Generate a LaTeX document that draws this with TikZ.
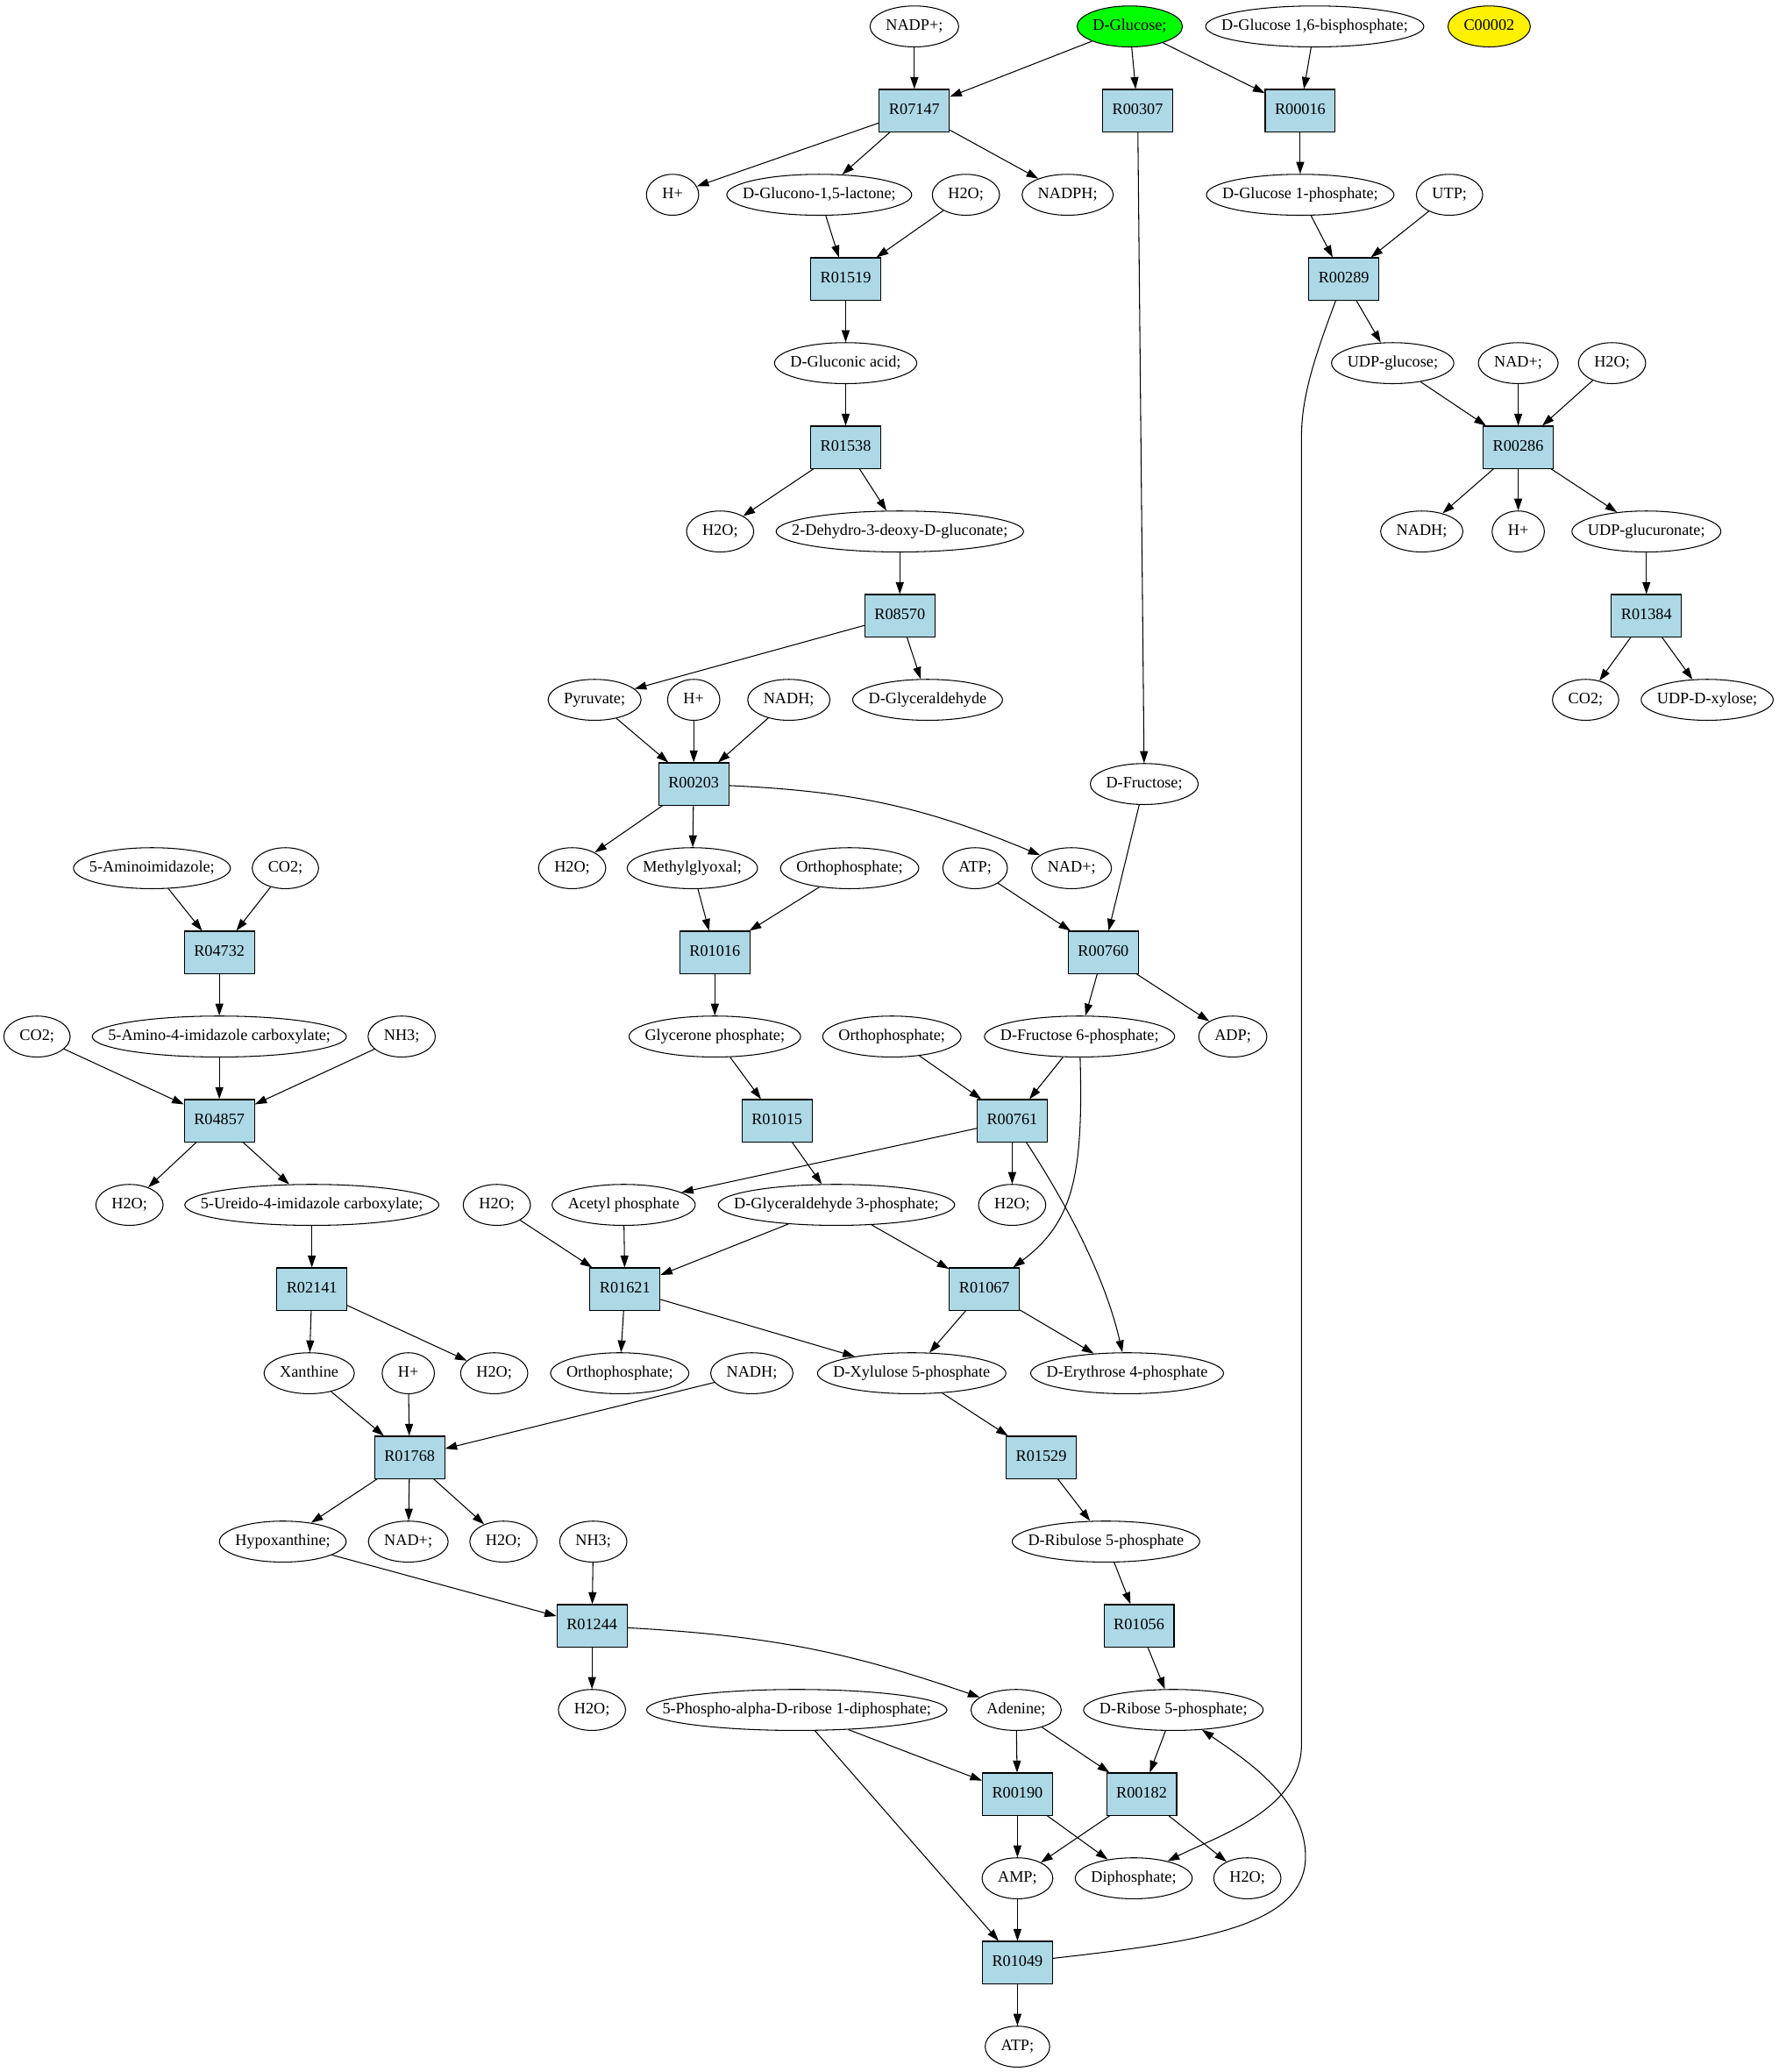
\documentclass[tikz,border=0pt]{standalone}
\usepackage{fontspec}
\setmainfont{Liberation Serif}
\usetikzlibrary{arrows.meta,shapes.geometric}
\definecolor{rxnblue}{RGB}{173,216,230}
\newlength\metw
\newcommand\metfont{\fontsize{12.1pt}{14pt}\selectfont}
% width of a compound label plus its side margins
\newcommand\metsize[1]{\pgfinterruptpicture\settowidth{\metw}{\metfont#1}\global\metw=\metw
  \endpgfinterruptpicture\global\advance\metw by 24pt\xdef\mw{\the\metw}}
\begin{document}
\begin{tikzpicture}[x=1pt,y=-1pt,line width=0.7pt,font=\metfont,>={Triangle[length=9pt,width=6pt]}]
\tikzstyle{met}=[ellipse,draw,minimum height=31pt,inner xsep=-100pt,inner ysep=0pt,text height=8.5pt,text depth=2.5pt]
\tikzstyle{rxn}=[rectangle,draw,fill=rxnblue,minimum width=53pt,minimum height=32pt,inner sep=0pt,text height=8.5pt,text depth=2.5pt]
\useasboundingbox (0,0) rectangle (1346,1568);

  % compounds: name/x/rank/label
  \foreach \name/\x/\r/\text in {nadp/692/0/NADP+;, g16bp/995/0/{D-Glucose 1,6-bisphosphate;},
      h-a/509/2/H+, glcnl/620/2/{D-Glucono-1,5-lactone;}, h2o-a/731/2/H2O;, nadph/808/2/NADPH;,
      g1p/984/2/D-Glucose 1-phosphate;, utp/1097/2/UTP;,
      glcn/640/4/D-Gluconic acid;, udpg/1054/4/UDP-glucose;, nad-a/1149/4/NAD+;, h2o-b/1220/4/H2O;,
      h2o-c/545/6/H2O;, kdg/681/6/2-Dehydro-3-deoxy-D-gluconate;, nadh-a/1076/6/NADH;, h-b/1149/6/H+,
      udpga/1246/6/UDP-glucuronate;,
      pyr/450/8/Pyruvate;, h-c/525/8/H+, nadh-b/597/8/NADH;, gla/702/8/D-Glyceraldehyde,
      co2-a/1200/8/CO2;, udpxyl/1292/8/UDP-D-xylose;,
      fru/866/9/D-Fructose;,
      aim/115/10/5-Aminoimidazole;, co2-b/216/10/CO2;, h2o-d/433/10/H2O;, mgo/524/10/Methylglyoxal;,
      pi-a/643/10/Orthophosphate;, atp-a/738/10/ATP;, nad-b/811/10/NAD+;,
      co2-c/28/12/CO2;, aicx/166/12/5-Amino-4-imidazole carboxylate;, nh3-a/304/12/NH3;,
      dhap/541/12/Glycerone phosphate;, pi-b/675/12/Orthophosphate;, f6p/817/12/D-Fructose 6-phosphate;,
      adp/933/12/ADP;,
      h2o-e/98/14/H2O;, uicx/236/14/5-Ureido-4-imidazole carboxylate;, h2o-f/376/14/H2O;,
      acp/472/14/Acetyl phosphate, gap/633/14/D-Glyceraldehyde 3-phosphate;, h2o-g/766/14/H2O;,
      xan/234/16/Xanthine, h-d/309/16/H+, h2o-h/374/16/H2O;, pi-c/469/16/Orthophosphate;,
      nadh-c/569/16/NADH;, xu5p/690/16/D-Xylulose 5-phosphate, e4p/853/16/D-Erythrose 4-phosphate,
      hyp/214/18/Hypoxanthine;, nad-c/309/18/NAD+;, h2o-i/381/18/H2O;, nh3-b/449/18/NH3;,
      ru5p/837/18/D-Ribulose 5-phosphate,
      h2o-j/448/20/H2O;, prpp/603/20/5-Phospho-alpha-D-ribose 1-diphosphate;, ade/769/20/Adenine;,
      r5p/888/20/D-Ribose 5-phosphate;,
      amp/770/22/AMP;, ppi/858/22/Diphosphate;, h2o-k/944/22/H2O;,
      atp-b/770/24/ATP;}
    { \metsize{\text}
      \node[met,minimum width=\mw] (\name) at (\x,{20+63.7*\r}) {\text}; }
  \metsize{D-Glucose;}
  \node[met,fill=green,minimum width=\mw] (glc) at (855,20) {D-Glucose;};
  \metsize{C00002}
  \node[met,fill=yellow,minimum width=\mw] (c00002) at (1127,20) {C00002};

  % reactions: name/x/rank
  \foreach \name/\x/\r in {R07147/692/1, R00307/861/1, R00016/984/1, R01519/640/3, R00289/1017/3,
      R01538/640/5, R00286/1149/5, R08570/681/7, R01384/1246/7, R00203/525/9,
      R04732/166/11, R01016/541/11, R00760/835/11, R04857/166/13, R01015/588/13, R00761/766/13,
      R02141/236/15, R01621/473/15, R01067/745/15, R01768/310/17, R01529/788/17,
      R01244/448/19, R01056/862/19, R00190/770/21, R00182/864/21, R01049/770/23}
    \node[rxn] (\name) at (\x,{20+63.7*\r}) {\name};

  \foreach \from/\to in {nadp/R07147, glc/R07147, glc/R00307, glc/R00016, g16bp/R00016,
      R07147/h-a, R07147/glcnl, R07147/nadph, R00016/g1p, g1p/R00289, utp/R00289,
      glcnl/R01519, h2o-a/R01519, R01519/glcn, glcn/R01538, R01538/h2o-c, R01538/kdg,
      kdg/R08570, R08570/pyr, R08570/gla, R00307/fru,
      R00289/udpg, udpg/R00286, nad-a/R00286, h2o-b/R00286, R00286/nadh-a, R00286/h-b,
      R00286/udpga, udpga/R01384, R01384/co2-a, R01384/udpxyl,
      pyr/R00203, h-c/R00203, nadh-b/R00203, R00203/h2o-d, R00203/mgo,
      mgo/R01016, pi-a/R01016, R01016/dhap, dhap/R01015, R01015/gap,
      fru/R00760, atp-a/R00760, R00760/f6p, R00760/adp,
      pi-b/R00761, f6p/R00761, R00761/acp, R00761/h2o-g,
      acp/R01621, h2o-f/R01621, gap/R01621, gap/R01067,
      R01621/pi-c, R01621/xu5p, R01067/xu5p, R01067/e4p,
      xu5p/R01529, R01529/ru5p, ru5p/R01056, R01056/r5p, r5p/R00182,
      ade/R00182, ade/R00190, prpp/R00190, prpp/R01049,
      R00190/amp, R00190/ppi, R00182/amp, R00182/h2o-k, amp/R01049, R01049/atp-b,
      aim/R04732, co2-b/R04732, R04732/aicx, co2-c/R04857, aicx/R04857, nh3-a/R04857,
      R04857/h2o-e, R04857/uicx, uicx/R02141, R02141/xan, R02141/h2o-h,
      xan/R01768, h-d/R01768, nadh-c/R01768, R01768/hyp, R01768/nad-c, R01768/h2o-i,
      hyp/R01244, nh3-b/R01244, R01244/h2o-j}
    { \draw[->] (\from) -- (\to); }

  % curved ones
  \draw[->] (R00203) to[bend left=10] (nad-b);
  \draw[->] (R01244) to[bend left=8] (ade);
  \draw[->] (f6p) .. controls (820,890) and (812,925) .. (R01067);
  \draw[->] (R00761) .. controls (800,900) and (835,960) .. (e4p);
  \draw[->] (R00289) .. controls (995,270) and (985,300) .. (985,330) -- (985,1320)
    .. controls (985,1370) and (920,1390) .. (ppi);
  \draw[->] (R01049) .. controls (900,1470) and (988,1460) .. (988,1405)
    .. controls (988,1360) and (940,1330) .. (r5p);

\end{tikzpicture}
\end{document}
